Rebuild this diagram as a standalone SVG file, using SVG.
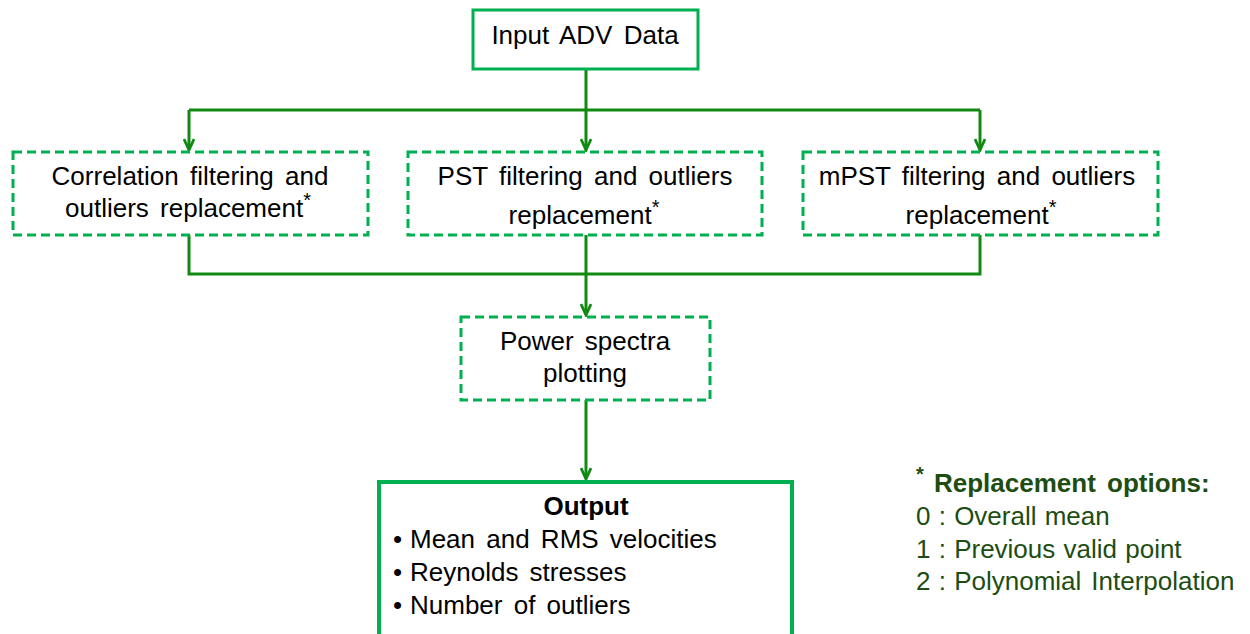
<svg xmlns="http://www.w3.org/2000/svg" width="1250" height="634" viewBox="0 0 1250 634">
<style>
text{font-family:"Liberation Sans",Arial,sans-serif;font-size:26px;word-spacing:4px;fill:#000}
.solid{fill:#fff;stroke:#00b050;stroke-width:3}
.dash{fill:#fff;stroke:#00b050;stroke-width:3;stroke-dasharray:9 5}
.conn{fill:none;stroke:#128a12;stroke-width:3}
.leg{fill:#1d4d12;word-spacing:1px}
.sup{font-size:20px}
</style>
<defs>
<marker id="arr" viewBox="0 0 14 12" refX="12" refY="6" markerWidth="14" markerHeight="12" markerUnits="userSpaceOnUse" orient="auto">
<path d="M1,1 L12,6 L1,11" fill="none" stroke="#128a12" stroke-width="2.8"/>
</marker>
</defs>
<g id="connectors">
<path class="conn" d="M586,69 V110"/>
<path class="conn" d="M189,110 H980"/>
<path class="conn" d="M189,110 V150" marker-end="url(#arr)"/>
<path class="conn" d="M586,110 V150" marker-end="url(#arr)"/>
<path class="conn" d="M980,110 V150" marker-end="url(#arr)"/>
<path class="conn" d="M189,235 V274 H980 V235"/>
<path class="conn" d="M586,235 V315" marker-end="url(#arr)"/>
<path class="conn" d="M586,400 V479" marker-end="url(#arr)"/>
</g>
<g id="input">
<rect class="solid" x="473" y="10" width="225" height="59"/>
<text x="585" y="44" text-anchor="middle">Input ADV Data</text>
</g>
<g id="correlation">
<rect class="dash" x="13" y="152" width="355" height="83"/>
<text x="190" y="185" text-anchor="middle">Correlation filtering and</text>
<text x="188" y="217" text-anchor="middle">outliers replacement<tspan class="sup" dy="-10">*</tspan></text>
</g>
<g id="pst">
<rect class="dash" x="408" y="152" width="354" height="83"/>
<text x="585" y="185" text-anchor="middle">PST filtering and outliers</text>
<text x="584" y="224" text-anchor="middle">replacement<tspan class="sup" dy="-10">*</tspan></text>
</g>
<g id="mpst">
<rect class="dash" x="803" y="152" width="355" height="83"/>
<text x="977" y="185" text-anchor="middle">mPST filtering and outliers</text>
<text x="981" y="224" text-anchor="middle">replacement<tspan class="sup" dy="-10">*</tspan></text>
</g>
<g id="power">
<rect class="dash" x="461" y="317" width="249" height="83"/>
<text x="585" y="350" text-anchor="middle">Power spectra</text>
<text x="585" y="382" text-anchor="middle">plotting</text>
</g>
<g id="output">
<rect x="379" y="482" width="413" height="160" fill="#fff" stroke="#00b050" stroke-width="4"/>
<text x="586" y="515" text-anchor="middle" font-weight="bold">Output</text>
<text x="393" y="548">•</text><text x="410" y="548">Mean and RMS velocities</text>
<text x="393" y="581">•</text><text x="410" y="581">Reynolds stresses</text>
<text x="393" y="614">•</text><text x="410" y="614">Number of outliers</text>
</g>
<g id="legend">
<text class="leg sup" x="916" y="481" font-weight="bold">*</text>
<text class="leg" x="934" y="492" font-weight="bold" style="word-spacing:4px">Replacement options:</text>
<text class="leg" x="916" y="525">0 : Overall mean</text>
<text class="leg" x="916" y="558">1 : Previous valid point</text>
<text class="leg" x="916" y="590">2 : Polynomial<tspan dx="10">Interpolation</tspan></text>
</g>
</svg>
